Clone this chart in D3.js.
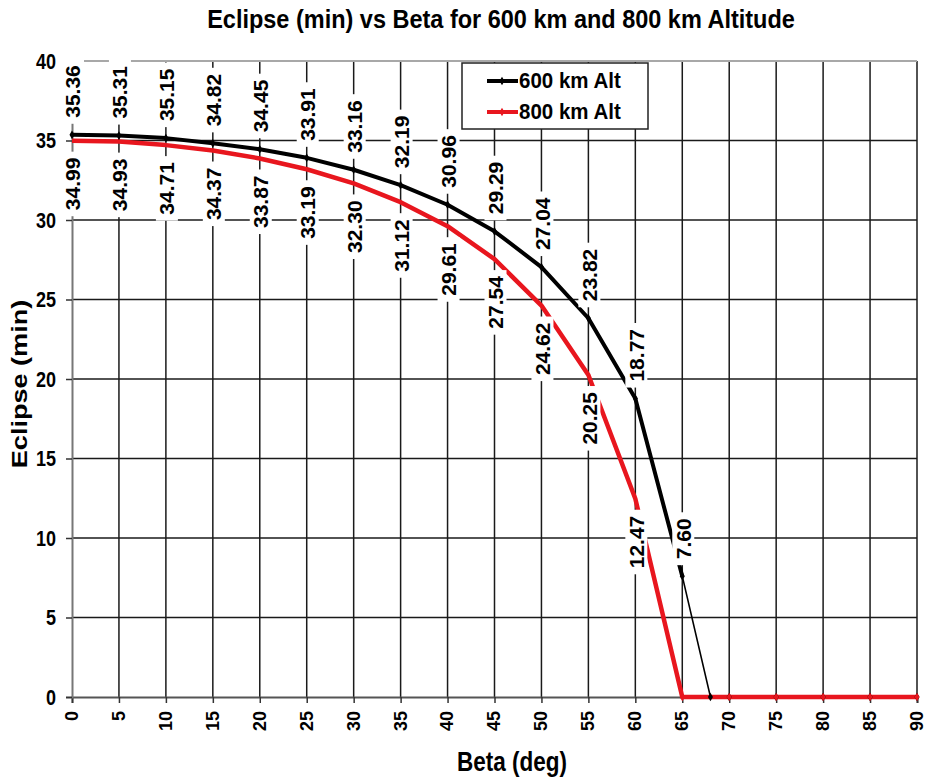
<!DOCTYPE html>
<html>
<head>
<meta charset="utf-8">
<script src="https://cdn.jsdelivr.net/npm/d3@7"></script>
<style>
  html, body { margin: 0; padding: 0; background: #fff; }
  svg { display: block; font-family: "Liberation Sans", Arial, sans-serif; }
</style>
</head>
<body>
<svg id="chart" width="925" height="781"></svg>
<script>
// Beta angles (deg) on the x axis
const beta = [0, 5, 10, 15, 20, 25, 30, 35, 40, 45, 50, 55, 60, 65, 70, 75, 80, 85, 90];
// Eclipse duration (min), 600 km altitude, beta 0..65
const eclipse600 = [35.36, 35.31, 35.15, 34.82, 34.45, 33.91, 33.16, 32.19, 30.96, 29.29, 27.04, 23.82, 18.77, 7.60];
// 600 km tail where the eclipse vanishes
const tailBeta600 = [65, 68, 70, 75, 80, 85, 90];
const tailEclipse600 = [7.60, 0, 0, 0, 0, 0, 0];
// Eclipse duration (min), 800 km altitude, beta 0..90
const eclipse800 = [34.99, 34.93, 34.71, 34.37, 33.87, 33.19, 32.30, 31.12, 29.61, 27.54, 24.62, 20.25, 12.47, 0, 0, 0, 0, 0, 0];
// Axis ticks
const xTicks = beta;
const yTicks = [0, 5, 10, 15, 20, 25, 30, 35, 40];
const seriesNames = ["600 km Alt", "800 km Alt"];
const seriesColors = ["#000000", "#e8161e"];

const svg = d3.select("#chart");
const x = d3.scaleLinear().domain([0, 90]).range([72, 917]);
const y = d3.scaleLinear().domain([0, 40]).range([697, 61]);

// Grid
const grid = svg.append("g");
grid.selectAll("line.v").data(xTicks.filter(d => d > 0)).join("line")
  .attr("x1", d => x(d)).attr("x2", d => x(d))
  .attr("y1", y(40)).attr("y2", y(0))
  .attr("stroke", "#1a1a1a").attr("stroke-width", 1.5);
grid.selectAll("line.h").data(yTicks.filter(d => d > 0)).join("line")
  .attr("x1", x(0)).attr("x2", x(90))
  .attr("y1", d => y(d)).attr("y2", d => y(d))
  .attr("stroke", d => d === 40 ? "#a8a8a8" : "#1a1a1a")
  .attr("stroke-width", d => d === 40 ? 2 : 1.5);

// Axes
const xAxis = svg.append("g").attr("transform", `translate(0,${y(0)})`)
  .call(d3.axisBottom(x).tickValues(xTicks).tickSize(6).tickFormat(d3.format("d")));
xAxis.select(".domain").attr("stroke", "#555").attr("stroke-width", 2);
xAxis.selectAll(".tick line").attr("stroke", "#333").attr("stroke-width", 1.5);
xAxis.selectAll(".tick text")
  .attr("font-size", 18).attr("font-weight", "bold").attr("fill", "#000")
  .attr("text-anchor", "end")
  .attr("transform", "rotate(-90)")
  .attr("x", -14).attr("y", 0).attr("dy", "0.3em");

const yAxis = svg.append("g").attr("transform", `translate(${x(0)},0)`)
  .call(d3.axisLeft(y).tickValues(yTicks).tickSize(6).tickFormat(d3.format("d")));
yAxis.select(".domain").attr("stroke", "#777").attr("stroke-width", 2);
yAxis.selectAll(".tick line").attr("stroke", "#333").attr("stroke-width", 1.5);
yAxis.selectAll(".tick text")
  .attr("font-size", 18).attr("font-weight", "bold").attr("fill", "#000")
  .attr("x", 0).attr("dy", 0)
  .attr("transform", "translate(-16,0) scale(1,1.22) translate(0,6)");

// Series lines
const line = d3.line().x(d => x(d[0])).y(d => y(d[1]));
const pts600 = eclipse600.map((v, i) => [beta[i], v]);
const tail600 = tailBeta600.map((b, i) => [b, tailEclipse600[i]]);
const pts800 = eclipse800.map((v, i) => [beta[i], v]);

svg.append("path").datum(tail600).attr("d", line)
  .attr("fill", "none").attr("stroke", seriesColors[0]).attr("stroke-width", 1.6);
svg.append("path").datum(pts600).attr("d", line)
  .attr("fill", "none").attr("stroke", seriesColors[0]).attr("stroke-width", 4)
  .attr("stroke-linejoin", "round");
svg.append("path").datum(pts800).attr("d", line)
  .attr("fill", "none").attr("stroke", seriesColors[1]).attr("stroke-width", 4.5)
  .attr("stroke-linejoin", "round");

// Point markers
const marker = d3.symbol().type(d3.symbolDiamond).size(22);
svg.append("g").selectAll("path").data(pts600.concat(tail600.slice(1))).join("path")
  .attr("d", marker).attr("transform", d => `translate(${x(d[0])},${y(d[1])})`)
  .attr("fill", seriesColors[0]);
svg.append("g").selectAll("path").data(pts800.slice(13)).join("path")
  .attr("d", marker).attr("transform", d => `translate(${x(d[0])},${y(d[1])})`)
  .attr("fill", seriesColors[1]);

// Value labels (rotated, white background)
function valueLabels(points, above) {
  const g = svg.append("g");
  points.forEach(([b, v]) => {
    const px = x(b), py = y(v);
    const lg = g.append("g");
    const bg = lg.append("rect").attr("fill", "#fff");
    const t = lg.append("text")
      .attr("font-size", 21).attr("font-weight", "bold").attr("fill", "#000")
      .attr("dy", "0.35em")
      .text(v.toFixed(2));
    const len = t.node().getComputedTextLength();
    // Text reads bottom-to-top; label sits above or below the point
    const yBottom = above ? py - 17 : py + 17 + len;
    t.attr("text-anchor", "start")
      .attr("transform", `translate(${px + 1},${yBottom}) rotate(-90)`);
    bg.attr("x", px - 10).attr("width", 22)
      .attr("y", yBottom - len - 6).attr("height", len + 12);
  });
}
valueLabels(pts600, true);
valueLabels(pts800.filter(d => d[1] > 0), false);

// Legend
const legend = svg.append("g");
legend.append("rect").attr("x", 462).attr("y", 63).attr("width", 186).attr("height", 66)
  .attr("fill", "#fff").attr("stroke", "#222").attr("stroke-width", 1.5);
seriesNames.forEach((name, i) => {
  const ly = 81 + i * 31;
  legend.append("line").attr("x1", 487).attr("x2", 518).attr("y1", ly).attr("y2", ly)
    .attr("stroke", seriesColors[i]).attr("stroke-width", 4);
  legend.append("path").attr("d", marker).attr("transform", `translate(502,${ly})`)
    .attr("fill", seriesColors[i]);
  legend.append("text").attr("x", 0).attr("y", 0)
    .attr("transform", `translate(519,${ly + 7}) scale(1,1.08)`)
    .attr("font-size", 20.5).attr("font-weight", "bold").attr("fill", "#000")
    .text(name);
});

// Titles
svg.append("text").attr("x", 0).attr("y", 0)
  .attr("transform", "translate(501,28) scale(1,1.08)")
  .attr("text-anchor", "middle").attr("font-size", 23.5).attr("font-weight", "bold")
  .text("Eclipse (min) vs Beta for 600 km and 800 km Altitude");
svg.append("text").attr("x", 0).attr("y", 0)
  .attr("transform", "translate(512,771) scale(1,1.2)")
  .attr("text-anchor", "middle").attr("font-size", 22.5).attr("font-weight", "bold")
  .text("Beta (deg)");
svg.append("text").attr("x", 0).attr("y", 0)
  .attr("transform", "translate(27,384) rotate(-90) scale(1.23,1)")
  .attr("text-anchor", "middle").attr("font-size", 22).attr("font-weight", "bold")
  .text("Eclipse (min)");
</script>
</body>
</html>
